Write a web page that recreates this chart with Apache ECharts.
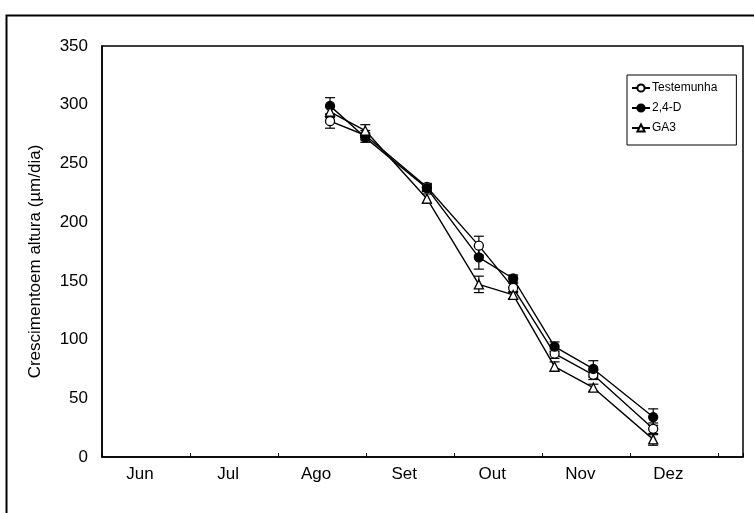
<!DOCTYPE html>
<html><head><meta charset="utf-8">
<script src="https://cdn.jsdelivr.net/npm/echarts@6/dist/echarts.min.js"></script>
<style>html,body{margin:0;padding:0;background:#fff}#c{width:754px;height:513px}</style>
</head><body><div id="c"></div>
<script>
const months = ['Jun','Jul','Ago','Set','Out','Nov','Dez'];
const xPos = [2.59, 2.99, 3.69, 4.28, 4.67, 5.14, 5.58, 6.26];
const testemunha = [286, 274, 230, 180, 144, 88, 70, 24];
const testemunhaErr = [6, 4, 3, 8, 4, 4, 4, 5];
const d24 = [299, 272, 229, 170, 152, 94, 75, 34];
const d24Err = [7, 4, 3, 10, 3, 4, 7, 7];
const ga3 = [294, 278, 220, 147, 138, 77, 59, 15];
const ga3Err = [5, 5, 4, 7, 3, 4, 3, 5];
const yTicks = [0, 50, 100, 150, 200, 250, 300, 350];

const FONT = 'Liberation Sans, Arial, sans-serif';
function pts(vals){ return vals.map((v,i)=>[xPos[i], v]); }
function errs(vals, e){ return vals.map((v,i)=>[xPos[i], v - e[i], v + e[i]]); }
function errSeries(name, vals, e){
  return {
    type:'custom', name: name+'_err', z: 1, silent: true,
    data: errs(vals, e),
    encode: {x:0, y:[1,2]},
    renderItem: function(params, api){
      const lo = api.coord([api.value(0), api.value(1)]);
      const hi = api.coord([api.value(0), api.value(2)]);
      const w = 5;
      const st = {stroke:'#000', lineWidth:1.2, fill:null};
      return {type:'group', children:[
        {type:'line', shape:{x1:lo[0], y1:lo[1], x2:hi[0], y2:hi[1]}, style:st},
        {type:'line', shape:{x1:lo[0]-w, y1:lo[1], x2:lo[0]+w, y2:lo[1]}, style:st},
        {type:'line', shape:{x1:hi[0]-w, y1:hi[1], x2:hi[0]+w, y2:hi[1]}, style:st}
      ]};
    }
  };
}
function lineSeries(name, vals, symbol, fill){
  return {
    type:'line', name:name, z: 3,
    data: pts(vals),
    symbol: symbol, symbolSize: 9,
    lineStyle:{color:'#000', width:1.4},
    itemStyle:{color: fill, borderColor:'#000', borderWidth:1.3},
    emphasis:{disabled:true},
    animation:false
  };
}
const chart = echarts.init(document.getElementById('c'));
chart.setOption({
  animation:false,
  backgroundColor:'#fff',
  textStyle:{fontFamily:FONT},
  grid:{left:102, top:46, right:11, bottom:56, show:true, borderColor:'#000', borderWidth:1.5, backgroundColor:'transparent'},
  graphic:[{type:'rect', left:4, top:13, shape:{x:0,y:0,width:800,height:600}, style:{fill:null, stroke:'#000', lineWidth:2}, z:-10}],
  legend:{
    data:['Testemunha','2,4-D','GA3'],
    orient:'vertical', left:627, top:75,
    borderColor:'#000', borderWidth:1, padding:[7,19,11,4],
    itemWidth:18, itemHeight:9, itemGap:8,
    textStyle:{fontFamily:FONT, fontSize:12, color:'#000', padding:[0,0,0,-3]}
  },
  xAxis:[
    {type:'value', min:0, max:7.28, interval:1, position:'bottom',
     axisLine:{show:true, lineStyle:{color:'#000', width:1.5}},
     axisTick:{show:true, inside:true, length:4, lineStyle:{color:'#000'}},
     axisLabel:{show:false}, splitLine:{show:false}},
    {type:'value', min:0, max:7.28, interval:0.5, position:'bottom',
     axisLine:{show:false}, axisTick:{show:false}, splitLine:{show:false},
     axisLabel:{show:true, margin:9, fontFamily:FONT, fontSize:17, color:'#000', padding:[0,12,0,0],
       formatter:function(v){ const r = Math.round(v*2); return (r%2===1) ? months[(r-1)/2] : ''; }}}
  ],
  yAxis:{type:'value', min:yTicks[0], max:yTicks[yTicks.length-1], interval:50,
    name:'Crescimentoem altura (µm/dia)', nameLocation:'middle', nameGap:58,
    nameTextStyle:{fontFamily:FONT, fontSize:17, color:'#000', padding:[0,20,0,0]},
    axisLine:{show:true, lineStyle:{color:'#000', width:1.5}},
    axisTick:{show:false}, splitLine:{show:false},
    axisLabel:{fontFamily:FONT, fontSize:17, color:'#000', margin:14}},
  series:[
    errSeries('Testemunha', testemunha, testemunhaErr),
    errSeries('2,4-D', d24, d24Err),
    errSeries('GA3', ga3, ga3Err),
    lineSeries('Testemunha', testemunha, 'circle', '#fff'),
    lineSeries('2,4-D', d24, 'circle', '#000'),
    lineSeries('GA3', ga3, 'triangle', '#fff')
  ]
});
</script></body></html>
